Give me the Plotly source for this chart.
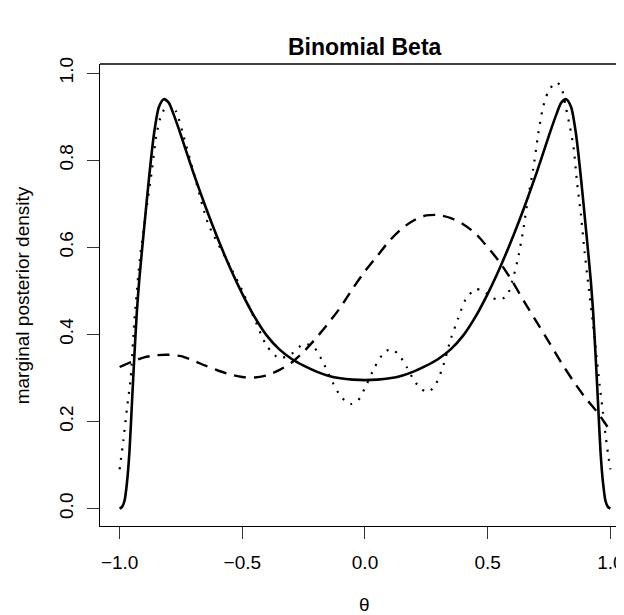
import plotly.graph_objects as go

# ---- data ----
theta_solid = [-1.00, -0.99, -0.98, -0.97, -0.96, -0.95, -0.94, -0.93, -0.92, -0.90, -0.88, -0.86,
               -0.84, -0.82, -0.80, -0.78, -0.75, -0.70, -0.65, -0.60, -0.55, -0.50, -0.45, -0.40,
               -0.35, -0.30, -0.25, -0.20, -0.15, -0.10, -0.05, 0.00,
               0.05, 0.10, 0.15, 0.20, 0.25, 0.30, 0.35, 0.40, 0.45, 0.50, 0.55, 0.60, 0.65,
               0.70, 0.75, 0.78, 0.80, 0.82, 0.84, 0.86, 0.88, 0.90, 0.92, 0.93, 0.94, 0.95,
               0.96, 0.97, 0.98, 0.99, 1.00]
density_solid = [0.000, 0.004, 0.018, 0.060, 0.130, 0.240, 0.350, 0.450, 0.525, 0.645, 0.760, 0.860,
                 0.922, 0.940, 0.932, 0.905, 0.857, 0.772, 0.693, 0.620, 0.553, 0.493, 0.440, 0.397,
                 0.366, 0.344, 0.328, 0.315, 0.305, 0.299, 0.296, 0.295,
                 0.296, 0.299, 0.305, 0.315, 0.328, 0.344, 0.366, 0.397, 0.440, 0.493, 0.553, 0.620, 0.693,
                 0.772, 0.857, 0.905, 0.932, 0.940, 0.922, 0.860, 0.760, 0.645, 0.525, 0.450, 0.350, 0.240,
                 0.130, 0.060, 0.018, 0.004, 0.000]

theta_dashed = [-1.00, -0.95, -0.90, -0.85, -0.80, -0.75, -0.70, -0.65, -0.60, -0.55, -0.50, -0.45,
                -0.40, -0.35, -0.30, -0.25, -0.20, -0.15, -0.10, -0.05, 0.00, 0.05, 0.10, 0.15,
                0.20, 0.25, 0.30, 0.35, 0.40, 0.45, 0.50, 0.55, 0.60, 0.65, 0.70, 0.75, 0.80,
                0.85, 0.90, 0.95, 1.00]
density_dashed = [0.325, 0.337, 0.347, 0.352, 0.353, 0.350, 0.340, 0.328, 0.317, 0.308, 0.302, 0.301,
                  0.306, 0.318, 0.335, 0.360, 0.391, 0.425, 0.462, 0.505, 0.545, 0.580, 0.615, 0.643,
                  0.662, 0.673, 0.674, 0.667, 0.653, 0.632, 0.600, 0.565, 0.522, 0.474, 0.428, 0.382, 0.335,
                  0.292, 0.253, 0.219, 0.178]

theta_dotted = [-1.000, -0.985, -0.970, -0.955, -0.940, -0.918, -0.890, -0.870, -0.850, -0.830, -0.800,
                -0.770, -0.735, -0.700, -0.640, -0.550, -0.500, -0.450, -0.400, -0.350, -0.300, -0.250,
                -0.210, -0.170, -0.140, -0.100, -0.060, -0.030, 0.000, 0.040, 0.080, 0.110, 0.140,
                0.170, 0.200, 0.230, 0.260, 0.290, 0.320, 0.350, 0.380, 0.410, 0.450, 0.480, 0.520,
                0.550, 0.580, 0.605, 0.625, 0.645, 0.665, 0.685, 0.705, 0.725, 0.745, 0.765, 0.785,
                0.805, 0.820, 0.835, 0.850, 0.865, 0.880, 0.895, 0.910, 0.930, 0.957, 0.970, 0.980,
                0.990, 1.000]
density_dotted = [0.090, 0.156, 0.230, 0.300, 0.430, 0.571, 0.690, 0.770, 0.858, 0.904, 0.929,
                  0.912, 0.846, 0.775, 0.655, 0.556, 0.500, 0.435, 0.373, 0.345, 0.355, 0.378,
                  0.372, 0.335, 0.299, 0.258, 0.240, 0.247, 0.277, 0.325, 0.360, 0.366, 0.352,
                  0.325, 0.294, 0.274, 0.268, 0.287, 0.330, 0.390, 0.437, 0.480, 0.504, 0.500, 0.484,
                  0.479, 0.490, 0.532, 0.578, 0.640, 0.715, 0.777, 0.856, 0.920, 0.955, 0.972, 0.978,
                  0.958, 0.918, 0.877, 0.830, 0.745, 0.675, 0.590, 0.515, 0.420, 0.280, 0.220, 0.171,
                  0.128, 0.090]

x_ticks = [-1.0, -0.5, 0.0, 0.5, 1.0]
x_ticklabels = ["\u22121.0", "\u22120.5", "0.0", "0.5", "1.0"]
y_ticks = [0.0, 0.2, 0.4, 0.6, 0.8, 1.0]
y_ticklabels = ["0.0", "0.2", "0.4", "0.6", "0.8", "1.0"]

title_text = "Binomial Beta"
x_label = "\u03b8"
y_label = "marginal posterior density"

# ---- figure ----
# the page body has an 8px margin, so the figure is 8px smaller and shifted
FONT = "Liberation Sans, Arial, Helvetica, sans-serif"
fig = go.Figure()
fig.add_trace(go.Scatter(x=theta_solid, y=density_solid, mode="lines",
                         line=dict(color="black", width=2.6, shape="spline", smoothing=0.7)))
fig.add_trace(go.Scatter(x=theta_dashed, y=density_dashed, mode="lines",
                         line=dict(color="black", width=2.4, dash="12px,8px", shape="spline", smoothing=0.7)))
fig.add_trace(go.Scatter(x=theta_dotted, y=density_dotted, mode="lines",
                         line=dict(color="black", width=2.2, dash="2px,7.5px", shape="spline", smoothing=0.6)))

fig.update_layout(
    width=616, height=607,
    margin=dict(l=92, r=0, t=56, b=89),
    plot_bgcolor="white", paper_bgcolor="white",
    showlegend=False,
    font=dict(family=FONT, size=19, color="black"),
)
fig.update_xaxes(range=[-1.080, 1.0475], tickvals=x_ticks, ticktext=x_ticklabels,
                 ticks="outside", ticklen=12, tickwidth=1, tickcolor="#333",
                 showline=True, linecolor="black", linewidth=1.3,
                 showgrid=False, zeroline=False, ticklabelstandoff=7,
                 ticklabeloverflow="allow")
fig.update_yaxes(range=[-0.040, 1.0207], tickvals=y_ticks, ticktext=y_ticklabels,
                 tickangle=-90, ticks="outside", ticklen=12, tickwidth=1, tickcolor="#333",
                 showline=True, linecolor="black", linewidth=1.3,
                 showgrid=False, zeroline=False, ticklabelstandoff=6)

# top edge of the box
fig.add_shape(type="line", xref="paper", yref="paper", x0=0, x1=1, y0=1, y1=1,
              line=dict(color="black", width=1.3))

fig.add_annotation(text="<b>" + title_text + "</b>", xref="x", yref="paper", x=0, y=1.0368,
                   xanchor="center", yanchor="middle", showarrow=False,
                   font=dict(family=FONT, size=23, color="black"))
fig.add_annotation(text=x_label, xref="x", yref="paper", x=0, y=-0.170,
                   xanchor="center", yanchor="middle", showarrow=False,
                   font=dict(family=FONT, size=19, color="black"))
fig.add_annotation(text=y_label, xref="paper", yref="paper", x=-0.1489, y=0.5,
                   xanchor="center", yanchor="middle", textangle=-90, showarrow=False,
                   font=dict(family=FONT, size=19, color="black"))

fig.write_html("out.html", config={"displayModeBar": False})
